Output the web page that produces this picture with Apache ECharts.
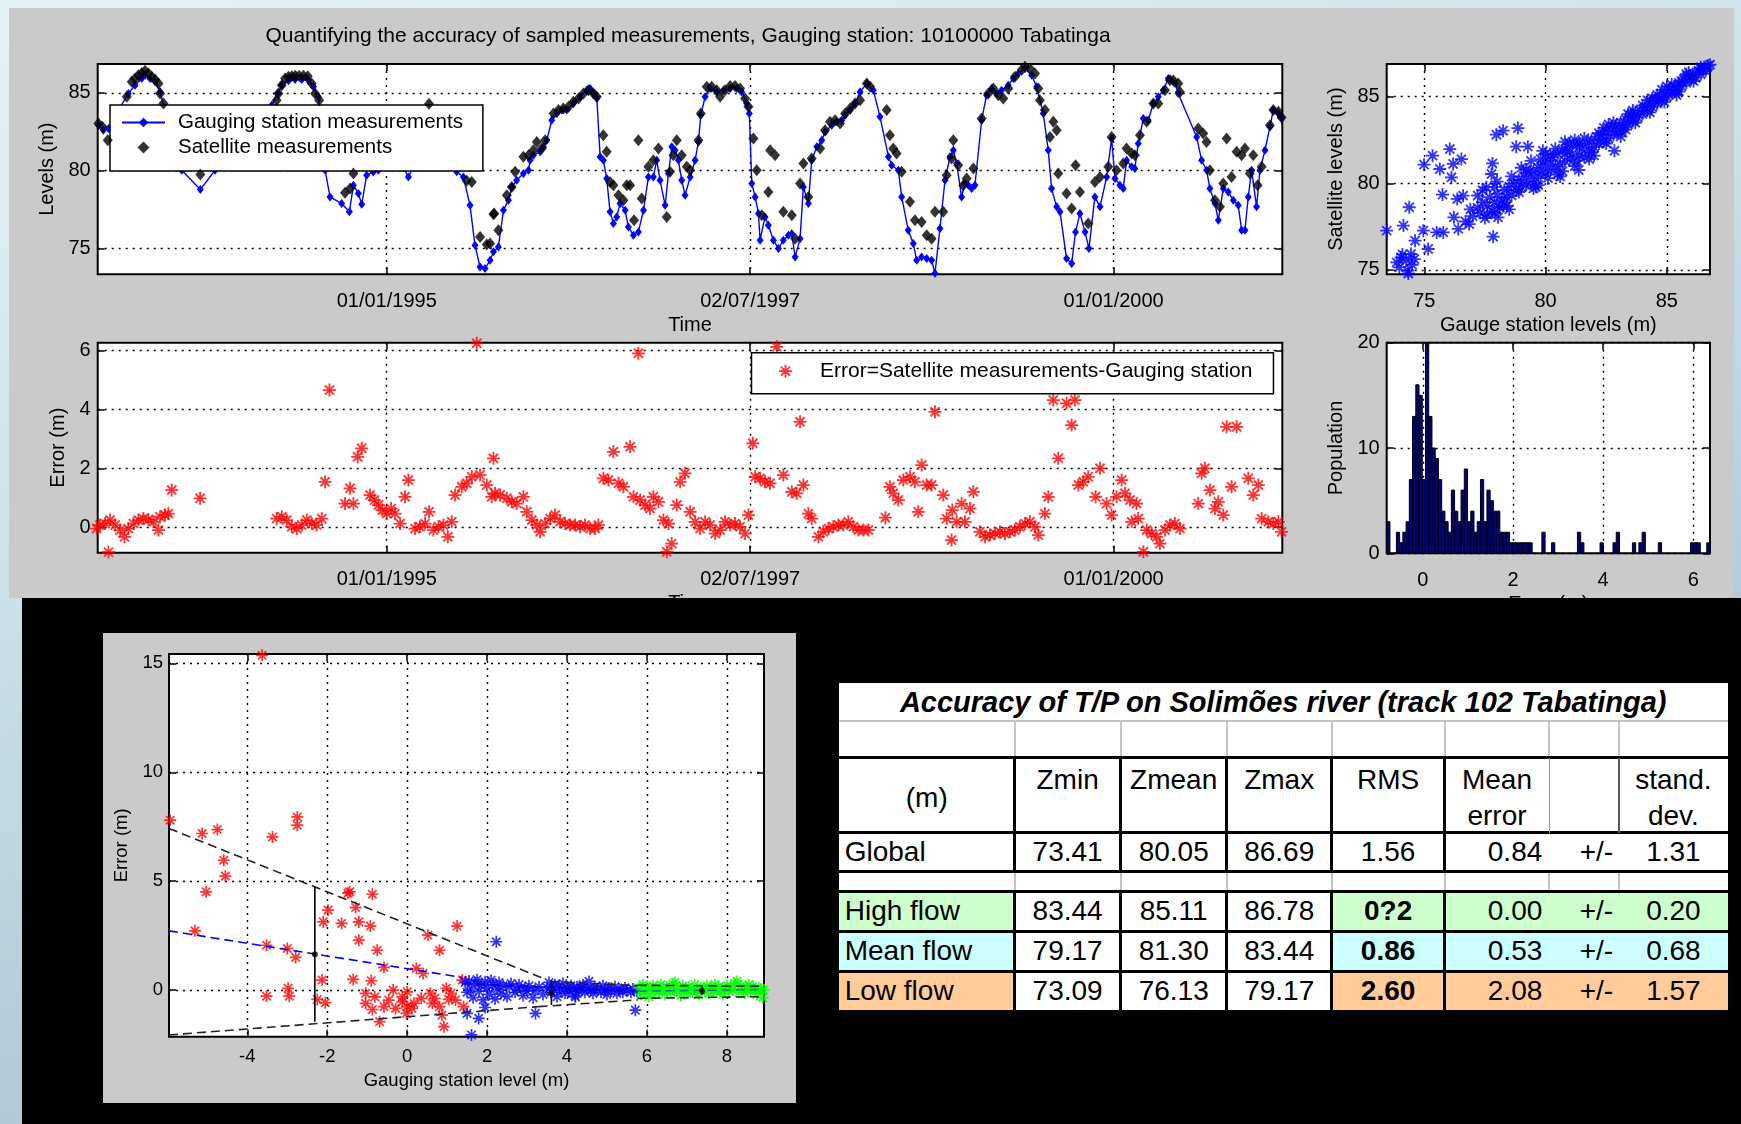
<!DOCTYPE html>
<html>
<head>
<meta charset="utf-8">
<title>Tabatinga gauging station - T/P accuracy</title>
<script src="https://cdn.jsdelivr.net/npm/echarts@6/dist/echarts.min.js"></script>
<style>
  html, body { margin: 0; padding: 0; width: 1741px; height: 1124px; overflow: hidden; }
  body { position: relative; background: linear-gradient(165deg, #e6f3f6 0%, #cde2ea 35%, #b3cad7 70%, #a6bfcf 100%);
         font-family: "Liberation Sans", Arial, Helvetica, sans-serif; }
  #figurePanel { position: absolute; left: 9px; top: 8px; width: 1725px; height: 590px; background: #cacaca; }
  #topChart { position: absolute; left: 0; top: 0; width: 1741px; height: 598px; }
  #blackPanel { position: absolute; left: 22px; top: 598px; width: 1719px; height: 526px; background: #000; }
  #flowChart { position: absolute; left: 103px; top: 633px; width: 693px; height: 470px; background: #cacaca; }
  #statsTable { position: absolute; left: 0; top: 0; width: 1741px; height: 1124px; pointer-events: none; }
  .cell { position: absolute; box-sizing: border-box; color: #000; font-size: 28px; line-height: 36px; white-space: pre; }
  .rule { position: absolute; }
</style>
</head>
<body>
<div id="figurePanel"></div>
<div id="topChart"></div>
<div id="blackPanel"></div>
<div id="flowChart"></div>
<div id="statsTable"></div>
<script>
// ---------------------------------------------------------------------------
// Data: Tabatinga gauging station (10100000) vs TOPEX/Poseidon track 102
// Times are decimal years.
// ---------------------------------------------------------------------------
const chartTitle = 'Quantifying the accuracy of sampled measurements, Gauging station: 10100000 Tabatinga';
const timeTickValues = [1995.0, 1997.5, 2000.0];
const timeTickLabels = ['01/01/1995', '02/07/1997', '01/01/2000'];
const levelTicks = [75, 80, 85];
const errorTicks = [0, 2, 4, 6];
const histXTicks = [0, 2, 4, 6];
const histYTicks = [0, 10, 20];
const flowXTicks = [-4, -2, 0, 2, 4, 6, 8];
const flowYTicks = [0, 5, 10, 15];

// gauging station water level (m)
const gaugeLevels = [
  [1993.017,82.92],[1993.051,82.60],[1993.086,82.71],[1993.155,83.89],[1993.223,84.96],[1993.269,85.49],
  [1993.315,85.92],[1993.338,86.13],[1993.372,85.92],[1993.407,85.71],[1993.441,85.06],[1993.590,80.03],
  [1993.718,78.79],[1993.819,80.03],[1994.209,84.21],[1994.250,84.96],[1994.278,85.49],[1994.324,85.77],
  [1994.370,85.86],[1994.415,85.86],[1994.461,85.81],[1994.496,85.39],[1994.530,84.74],[1994.576,80.03],
  [1994.610,78.32],[1994.690,77.89],[1994.743,77.36],[1994.771,79.07],[1994.805,78.53],[1994.828,77.85],
  [1994.862,79.71],[1994.908,79.92],[1994.943,80.03],[1994.970,80.40],[1995.000,80.80],[1995.057,81.00],
  [1995.092,80.60],[1995.149,79.60],[1995.195,80.50],[1995.264,82.00],[1995.291,83.80],[1995.355,82.60],
  [1995.420,81.00],[1995.481,79.93],[1995.527,79.60],[1995.573,77.78],[1995.607,75.21],[1995.642,73.82],
  [1995.676,73.72],[1995.711,74.25],[1995.734,74.79],[1995.768,75.11],[1995.803,77.46],[1995.837,78.11],
  [1995.860,78.96],[1995.894,79.39],[1995.940,79.82],[1995.975,80.03],[1995.986,80.67],[1996.009,81.00],
  [1996.055,81.21],[1996.078,81.53],[1996.101,81.96],[1996.135,83.24],[1996.170,83.67],[1996.204,83.89],
  [1996.238,83.89],[1996.284,84.31],[1996.330,84.74],[1996.376,85.17],[1996.399,85.28],[1996.422,84.96],
  [1996.445,84.64],[1996.468,80.89],[1996.490,80.67],[1996.513,79.50],[1996.536,77.36],[1996.559,76.61],
  [1996.582,77.03],[1996.605,77.89],[1996.640,77.46],[1996.662,76.39],[1996.697,75.86],[1996.731,76.07],
  [1996.766,77.46],[1996.800,79.60],[1996.834,79.60],[1996.857,80.67],[1996.880,79.39],[1996.915,77.78],
  [1996.938,79.82],[1996.961,81.53],[1996.983,81.32],[1997.006,80.67],[1997.029,79.39],[1997.052,78.43],
  [1997.087,79.60],[1997.121,80.67],[1997.144,81.85],[1997.160,83.56],[1997.190,84.74],[1997.224,85.28],
  [1997.270,85.06],[1997.316,85.17],[1997.362,85.28],[1997.408,85.28],[1997.442,85.06],[1997.476,84.31],
  [1997.494,83.67],[1997.511,79.18],[1997.534,78.32],[1997.557,77.25],[1997.568,75.54],[1997.602,77.03],
  [1997.625,76.50],[1997.660,75.54],[1997.694,75.00],[1997.728,75.54],[1997.763,75.86],[1997.786,75.96],
  [1997.809,74.46],[1997.843,75.64],[1997.866,78.96],[1997.900,77.89],[1997.923,80.67],[1997.958,81.53],
  [1997.992,81.96],[1998.015,82.49],[1998.061,82.92],[1998.095,83.14],[1998.130,83.24],[1998.153,83.56],
  [1998.187,83.89],[1998.221,84.31],[1998.256,85.06],[1998.302,85.60],[1998.347,85.17],[1998.393,83.46],
  [1998.451,80.89],[1998.473,80.35],[1998.519,80.03],[1998.542,78.32],[1998.587,76.18],[1998.622,75.32],
  [1998.645,74.25],[1998.679,74.46],[1998.714,74.36],[1998.748,74.25],[1998.771,73.41],[1998.805,76.29],
  [1998.840,79.39],[1998.874,80.89],[1998.897,81.32],[1998.920,80.46],[1998.954,78.32],[1998.977,79.18],
  [1999.000,79.07],[1999.023,78.85],[1999.046,79.07],[1999.092,83.24],[1999.126,84.85],[1999.161,85.28],
  [1999.195,84.96],[1999.229,85.17],[1999.275,85.49],[1999.310,85.92],[1999.344,86.24],[1999.390,86.56],
  [1999.436,86.13],[1999.470,85.39],[1999.516,83.67],[1999.550,81.32],[1999.573,78.85],[1999.608,77.68],
  [1999.631,77.36],[1999.676,74.36],[1999.711,74.04],[1999.738,76.07],[1999.768,77.25],[1999.803,76.07],
  [1999.830,75.00],[1999.871,78.32],[1999.906,77.68],[1999.952,79.60],[1999.986,82.07],[2000.009,79.50],
  [2000.043,79.07],[2000.066,78.85],[2000.089,80.67],[2000.124,80.25],[2000.146,80.14],[2000.169,81.75],
  [2000.204,83.35],[2000.238,83.24],[2000.273,84.31],[2000.307,84.74],[2000.341,85.17],[2000.376,85.92],
  [2000.422,85.60],[2000.444,84.96],[2000.571,82.17],[2000.605,80.67],[2000.639,80.03],[2000.662,78.85],
  [2000.697,77.89],[2000.720,76.82],[2000.754,78.85],[2000.788,78.64],[2000.823,78.11],[2000.857,77.78],
  [2000.880,76.18],[2000.903,76.18],[2000.926,78.32],[2000.949,80.03],[2000.983,77.68],[2001.006,80.03],
  [2001.041,81.32],[2001.075,82.82],[2001.098,83.89],[2001.133,83.67],[2001.155,83.42]
];

// satellite (T/P altimetry) water level (m)
const satelliteLevels = [
  [1993.017,83.03],[1993.044,82.82],[1993.081,81.96],[1993.212,84.74],[1993.246,85.71],[1993.269,85.92],
  [1993.292,86.13],[1993.315,86.28],[1993.338,86.41],[1993.361,86.24],[1993.384,86.03],[1993.407,85.86],
  [1993.430,85.60],[1993.441,84.96],[1993.464,84.31],[1993.718,79.75],[1994.243,84.53],[1994.255,84.96],
  [1994.278,85.49],[1994.301,85.92],[1994.324,86.03],[1994.347,86.07],[1994.370,86.09],[1994.397,86.09],
  [1994.427,86.09],[1994.457,86.07],[1994.484,85.60],[1994.507,84.96],[1994.535,84.53],[1994.713,78.58],
  [1994.748,78.85],[1994.771,79.82],[1995.291,84.30],[1995.550,79.35],[1995.585,79.28],[1995.642,75.75],
  [1995.688,75.26],[1995.734,77.21],[1995.711,75.32],[1995.739,77.25],[1995.768,76.18],[1995.826,78.43],
  [1995.860,78.96],[1995.883,79.93],[1995.940,80.89],[1995.975,81.00],[1996.009,81.32],[1996.032,81.85],
  [1996.066,81.42],[1996.089,81.96],[1996.147,83.67],[1996.181,83.89],[1996.215,83.99],[1996.250,84.10],
  [1996.284,84.42],[1996.319,84.64],[1996.353,84.96],[1996.387,85.17],[1996.422,84.96],[1996.445,84.74],
  [1996.490,82.28],[1996.513,81.21],[1996.536,79.28],[1996.559,79.07],[1996.594,78.43],[1996.628,78.11],
  [1996.651,79.07],[1996.674,79.07],[1996.701,76.82],[1996.731,81.96],[1996.754,78.21],[1996.800,80.25],
  [1996.834,80.67],[1996.869,81.42],[1996.926,77.03],[1996.949,79.93],[1996.972,81.00],[1996.995,81.96],
  [1997.029,81.00],[1997.064,80.25],[1997.087,80.03],[1997.144,81.96],[1997.160,83.67],[1997.201,85.39],
  [1997.235,85.39],[1997.270,85.17],[1997.293,84.74],[1997.327,85.17],[1997.362,85.43],[1997.396,85.43],
  [1997.430,85.28],[1997.465,84.64],[1997.488,84.10],[1997.522,82.07],[1997.545,80.03],[1997.580,77.14],
  [1997.625,78.64],[1997.637,81.32],[1997.671,81.00],[1997.728,77.36],[1997.786,77.14],[1997.809,75.64],
  [1997.843,79.18],[1997.866,80.46],[1997.900,78.32],[1997.923,80.78],[1997.981,81.42],[1998.015,82.60],
  [1998.049,83.14],[1998.084,83.24],[1998.118,83.03],[1998.153,83.67],[1998.187,83.99],[1998.221,84.31],
  [1998.256,84.53],[1998.302,85.60],[1998.325,85.39],[1998.439,83.89],[1998.461,82.28],[1998.484,81.42],
  [1998.507,81.10],[1998.542,79.93],[1998.599,78.00],[1998.633,76.82],[1998.679,76.71],[1998.714,75.86],
  [1998.748,75.64],[1998.771,77.36],[1998.828,77.36],[1998.851,79.71],[1998.885,80.78],[1998.897,81.96],
  [1998.931,80.35],[1998.966,79.07],[1998.989,79.50],[1999.035,80.14],[1999.092,83.35],[1999.138,84.96],
  [1999.172,85.28],[1999.207,84.85],[1999.241,84.64],[1999.275,85.28],[1999.321,86.03],[1999.367,86.46],
  [1999.390,86.67],[1999.424,86.56],[1999.459,86.24],[1999.482,85.28],[1999.493,84.53],[1999.527,83.89],
  [1999.562,82.17],[1999.585,83.14],[1999.608,82.60],[1999.619,79.82],[1999.676,78.53],[1999.711,77.57],
  [1999.738,80.35],[1999.768,78.64],[1999.825,76.61],[1999.871,79.28],[1999.906,79.60],[1999.963,80.25],
  [1999.986,82.17],[2000.020,80.03],[2000.066,80.46],[2000.089,81.42],[2000.124,81.10],[2000.146,81.00],
  [2000.181,82.28],[2000.227,83.14],[2000.273,84.31],[2000.307,84.31],[2000.353,85.17],[2000.387,85.81],
  [2000.410,85.81],[2000.444,85.60],[2000.456,85.06],[2000.582,82.71],[2000.616,82.39],[2000.639,81.85],
  [2000.662,80.03],[2000.697,78.11],[2000.731,77.68],[2000.754,79.18],[2000.777,82.07],[2000.811,79.60],
  [2000.846,81.21],[2000.880,81.00],[2000.903,81.42],[2000.937,79.82],[2000.960,81.00],[2000.990,79.07],
  [2001.018,80.25],[2001.075,82.92],[2001.098,83.89],[2001.133,83.78],[2001.155,83.42]
];

// error = satellite - gauging station (m)
const errorValues = [
  [1993.005,-0.05],[1993.028,0.07],[1993.063,0.12],[1993.086,-0.85],[1993.097,0.24],[1993.132,0.07],
  [1993.166,-0.10],[1993.196,-0.33],[1993.223,-0.05],[1993.258,0.12],[1993.292,0.24],[1993.326,0.29],
  [1993.361,0.26],[1993.395,0.18],[1993.430,-0.10],[1993.441,0.35],[1993.475,0.41],[1993.498,0.46],
  [1993.521,1.26],[1993.716,0.98],[1994.243,0.29],[1994.278,0.35],[1994.312,0.24],[1994.347,0.01],
  [1994.381,-0.05],[1994.415,0.07],[1994.450,0.24],[1994.484,0.12],[1994.518,0.07],[1994.553,0.29],
  [1994.576,1.54],[1994.606,4.66],[1994.713,0.80],[1994.748,1.32],[1994.771,0.80],[1994.800,2.39],
  [1994.828,2.68],[1994.885,1.09],[1994.915,0.92],[1994.943,0.75],[1994.970,0.58],[1995.000,0.46],
  [1995.030,0.63],[1995.057,0.46],[1995.092,0.12],[1995.126,1.03],[1995.149,1.60],[1995.195,-0.05],
  [1995.229,0.01],[1995.264,0.12],[1995.291,0.52],[1995.321,-0.10],[1995.355,0.01],[1995.390,0.07],
  [1995.420,-0.33],[1995.447,0.18],[1995.470,1.09],[1995.516,1.37],[1995.550,1.49],[1995.585,1.71],
  [1995.619,6.25],[1995.642,1.77],[1995.688,1.43],[1995.722,1.03],[1995.734,2.34],[1995.745,1.15],
  [1995.780,1.09],[1995.826,0.98],[1995.860,0.86],[1995.894,0.80],[1995.940,1.03],[1995.963,0.52],
  [1995.998,0.24],[1996.032,0.07],[1996.055,-0.16],[1996.089,0.12],[1996.124,0.29],[1996.158,0.41],
  [1996.192,0.18],[1996.227,0.12],[1996.261,0.07],[1996.296,0.07],[1996.330,0.01],[1996.364,0.07],
  [1996.399,-0.05],[1996.433,-0.05],[1996.456,0.07],[1996.490,1.66],[1996.525,1.60],[1996.559,2.56],
  [1996.594,1.49],[1996.628,1.37],[1996.674,2.73],[1996.697,1.03],[1996.731,5.91],[1996.743,0.92],
  [1996.777,0.75],[1996.811,0.63],[1996.834,1.03],[1996.869,0.86],[1996.903,0.24],[1996.926,-0.84],
  [1996.938,0.12],[1996.960,-0.56],[1996.995,0.75],[1997.018,1.54],[1997.052,1.83],[1997.087,0.52],
  [1997.121,0.18],[1997.155,-0.05],[1997.190,0.18],[1997.224,0.07],[1997.259,-0.22],[1997.293,-0.10],
  [1997.327,0.18],[1997.362,0.07],[1997.396,0.12],[1997.430,0.01],[1997.465,-0.22],[1997.488,0.41],
  [1997.518,2.85],[1997.534,1.71],[1997.568,1.66],[1997.602,1.54],[1997.637,1.49],[1997.683,6.13],
  [1997.728,1.77],[1997.786,1.20],[1997.820,1.15],[1997.843,3.58],[1997.866,1.43],[1997.900,0.46],
  [1997.923,0.29],[1997.969,-0.33],[1998.003,-0.16],[1998.038,-0.05],[1998.072,0.01],[1998.107,0.07],
  [1998.141,0.07],[1998.175,0.18],[1998.210,0.01],[1998.244,-0.10],[1998.279,-0.10],[1998.313,-0.10],
  [1998.430,0.32],[1998.461,1.37],[1998.484,1.15],[1998.519,0.92],[1998.553,1.60],[1998.599,1.71],
  [1998.633,1.54],[1998.656,0.52],[1998.679,2.11],[1998.714,1.43],[1998.748,1.43],[1998.771,3.92],
  [1998.828,1.09],[1998.851,0.29],[1998.885,-0.44],[1998.890,0.58],[1998.920,0.18],[1998.954,0.80],
  [1998.977,0.18],[1999.012,0.63],[1999.035,1.20],[1999.080,-0.16],[1999.115,-0.33],[1999.149,-0.27],
  [1999.184,-0.22],[1999.218,-0.16],[1999.252,-0.22],[1999.287,-0.16],[1999.321,-0.10],[1999.355,0.01],
  [1999.390,0.12],[1999.424,0.18],[1999.459,0.01],[1999.482,-0.27],[1999.527,0.46],[1999.550,1.03],
  [1999.585,4.32],[1999.619,2.34],[1999.676,4.21],[1999.711,3.47],[1999.734,4.32],[1999.757,1.43],
  [1999.791,1.54],[1999.825,1.71],[1999.876,1.03],[1999.906,2.00],[1999.951,0.80],[1999.986,0.41],
  [2000.020,1.03],[2000.055,1.60],[2000.078,1.15],[2000.112,0.92],[2000.124,0.18],[2000.158,0.80],
  [2000.169,0.29],[2000.204,-0.84],[2000.227,-0.10],[2000.261,-0.22],[2000.295,-0.33],[2000.318,-0.56],
  [2000.353,-0.10],[2000.387,0.07],[2000.421,0.12],[2000.456,-0.05],[2000.582,0.80],[2000.605,1.83],
  [2000.628,2.00],[2000.662,1.26],[2000.697,0.63],[2000.720,0.86],[2000.754,0.41],[2000.777,3.41],
  [2000.811,1.37],[2000.846,3.41],[2000.926,1.66],[2000.960,1.09],[2000.995,1.43],[2001.018,0.29],
  [2001.064,0.18],[2001.098,0.12],[2001.133,0.18],[2001.155,-0.16]
];

// [gauge level, satellite level] pairs (m)
const levelPairs = [
  [73.45,77.27],[74.14,77.56],[74.38,78.62],[74.99,81.08],[75.34,81.60],[75.64,80.83],[75.75,79.35],
  [76.05,81.98],[76.19,81.12],[76.12,80.35],[76.36,79.10],[76.60,79.29],[76.53,81.40],[76.22,78.04],
  [76.40,77.37],[76.85,77.65],[74.96,77.27],[75.16,76.21],[74.62,76.69],[75.51,77.17],[75.78,77.17],
  [77.84,76.92],[77.81,81.15],[77.97,82.81],[78.25,83.04],[78.86,83.19],[78.79,82.12],[79.27,82.12],
  [78.11,78.62],[78.04,78.04],[77.56,79.77],[77.77,80.54],[79.89,81.88],[82.84,81.88],[81.37,80.77],
  [73.86,75.44],[74.04,75.73],[74.25,75.54],[74.45,75.92],[74.59,75.63],[73.97,75.15],[74.32,74.96],
  [74.34,74.80],[74.10,75.90],[74.50,75.30],
  [76.70,77.80],[76.90,78.50],[77.00,78.10],[77.20,78.60],[77.30,78.30],[77.40,78.90],[77.50,78.00],
  [77.60,78.70],[77.70,79.20],[77.80,78.40],[77.90,78.90],[78.00,79.40],[78.10,78.60],[78.20,79.00],
  [78.30,79.60],[78.40,79.20],[78.50,79.80],[78.60,79.30],[78.70,80.00],[78.80,79.60],[78.90,80.20],
  [79.00,79.80],[79.10,80.40],[79.20,79.90],[79.30,80.60],[79.40,80.10],[79.50,80.70],[79.60,80.30],
  [79.70,80.90],[79.80,80.50],[79.90,81.10],[80.00,80.60],[80.10,81.30],[80.20,80.80],[80.30,81.50],
  [80.40,81.00],[80.50,81.70],[80.60,81.10],[80.70,81.90],[80.80,81.30],[80.90,82.10],[81.00,81.40],
  [81.10,81.70],[81.20,81.00],[81.30,82.20],[81.40,81.60],[81.50,82.00],[81.60,81.50],[81.70,82.30],
  [81.80,81.90],[81.90,82.50],[82.00,82.10],[82.10,82.70],[82.20,82.30],[82.30,82.80],[82.40,82.40],
  [82.50,83.00],[82.60,82.60],[82.70,83.10],[82.80,82.80],[82.90,83.30],[83.00,83.00],[83.10,83.50],
  [83.20,83.20],[83.30,83.70],[83.40,83.40],[83.50,83.90],[83.60,83.60],[83.70,84.10],[83.80,83.80],
  [83.90,84.20],[84.00,84.00],[84.10,84.40],[84.20,84.20],[84.30,84.60],[84.40,84.40],[84.50,84.80],
  [84.60,84.60],[84.70,85.00],[84.80,84.80],[84.90,85.20],[85.00,85.00],[85.10,85.40],[85.20,85.20],
  [85.30,85.60],[85.40,85.40],[85.50,85.80],[85.60,85.60],[85.70,86.00],[85.80,85.80],[85.90,86.20],
  [86.00,86.00],[86.10,86.30],[86.20,86.10],[86.30,86.50],[86.40,86.30],[86.50,86.60],[86.60,86.50],
  [86.70,86.80],[86.78,86.85],
  [77.40,79.60],[77.90,79.80],[78.40,78.70],[79.00,80.90],[79.60,79.80],[80.20,81.60],[80.60,80.40],
  [80.90,81.80],[81.40,82.30],[81.80,81.40],[82.40,83.20],[83.10,82.70],[83.60,84.20],[84.20,84.80],
  [84.80,85.40],[85.40,85.10],[85.90,86.40],[86.40,86.70],[79.40,81.30],[80.80,82.40],[77.20,79.30],
  [77.60,78.20],[77.90,78.30],[78.30,78.90],[78.60,80.40],[78.90,79.50],[79.20,80.80],[79.50,79.70],
  [79.80,81.40],[80.10,80.30],[80.40,82.00],[80.70,80.70],[81.00,82.30],[81.30,81.30],[81.60,82.60],
  [81.90,81.80],[82.20,82.90],[82.50,82.30],[82.80,83.50],[83.10,83.00],[83.40,84.00],[83.70,83.50],
  [84.00,84.50],[84.30,84.10],[84.60,85.10],[84.90,84.70],[85.20,85.70],[85.50,85.30],[85.80,86.30],
  [86.10,85.90],[86.40,86.60],[78.00,80.10],[78.50,78.50],[79.70,79.90],[80.00,81.70],[80.50,80.50],
  [81.20,82.50],[82.00,81.60],[82.60,83.40],[83.30,83.10],[84.40,84.90],[85.00,85.60],[85.60,85.90]
];

// histogram of the errors (100 bins)
const histStart = -0.8;
const histBinWidth = 0.0717;
const histCounts = [
  3,0,0,
  2,1,2,3,7,13,16,15,7,20,13,10,9,7,4,3,2,6,4,3,6,8,3,4,2,3,7,3,6,5,4,4,2,2,2,1,1,1,1,1,1,1,
  0,0,0,2,0,0,1,0,0,0,0,0,0,0,2,1,0,0,0,0,0,1,0,0,0,1,2,0,0,0,0,1,0,1,2,0,0,0,0,1,
  0,0,0,0,0,0,0,0,0,1,1,1,0,0,1
];

// error vs gauging station level, split by flow regime [level (m), error (m)]
const lowFlowErrors = [
  [-3.63,15.37],[-5.93,7.80],[-5.13,7.19],[-4.75,7.37],[-3.37,7.03],[-2.75,7.95],[-2.75,7.57],[-4.59,5.96],
  [-4.55,5.23],[-5.03,4.51],[-5.31,2.72],[-3.52,2.06],[-3.00,1.91],[-2.79,1.50],[-3.52,-0.28],[-2.98,0.08],
  [-2.95,-0.28],[-2.13,0.46],[-2.25,-0.43],[-2.05,-0.58],[-1.98,3.67],[-2.10,3.13],[-1.64,3.06],[-1.44,4.51],
  [-1.29,3.79],[-1.21,3.13],[-1.21,2.29],[-0.92,2.94],[-0.87,4.40],[-0.75,1.83],[-1.35,0.49],[-0.90,0.43],
  [-0.58,1.04],[-1.04,-0.61],[-0.81,-0.31],[-0.69,-1.45],[-0.58,-0.76],[-0.35,0.00],[-0.29,-0.84],[-0.12,-0.54],
  [0.00,-0.76],[0.00,-0.08],[-0.12,-0.31],[0.12,-0.84],[0.23,0.99],[0.40,0.76],[0.35,-0.38],[0.52,2.52],
  [0.58,-0.15],[0.69,-0.38],[0.81,1.83],[0.87,-1.15],[0.92,-1.68],[0.98,0.08],[1.04,-0.43],[1.25,2.94],
  [1.38,0.46],[1.41,-0.76],[0.17,-0.61],[-0.46,-0.46],[-1.04,-0.15],[0.63,-0.61],[1.10,-0.15],[1.21,-0.46],
  [-0.87,-0.89],[-0.02,-1.07],[0.81,-0.76],[-1.48,4.45]
];
const meanFlowErrors = [
  [1.45,0.35],[1.50,-0.10],[1.55,0.42],[1.60,0.05],[1.65,-0.35],[1.70,0.30],[1.75,0.48],[1.80,-0.05],
  [1.85,0.20],[1.90,-0.45],[1.95,0.38],[2.00,0.10],[2.05,-0.20],[2.10,0.45],[2.15,0.25],[2.20,-0.40],
  [2.25,0.05],[2.30,0.35],[2.35,-0.15],[2.40,0.20],[2.50,-0.30],[2.55,0.15],[2.60,0.30],[2.70,-0.10],
  [2.75,0.05],[2.80,0.25],[2.90,-0.25],[2.95,0.10],[3.00,-0.05],[3.05,0.20],[3.15,-0.35],[3.20,0.00],
  [3.30,0.15],[3.40,-0.20],[3.50,0.10],[3.55,0.35],[3.60,-0.10],[3.65,0.05],[3.70,0.25],[3.75,-0.30],
  [3.80,0.15],[3.85,0.00],[3.90,0.30],[3.95,-0.15],[4.00,0.10],[4.05,-0.05],[4.10,0.20],[4.15,0.05],
  [4.20,-0.25],[4.25,0.15],[4.30,-0.05],[4.35,0.10],[4.40,0.25],[4.45,-0.10],[4.50,0.05],[4.55,0.40],
  [4.60,0.00],[4.65,-0.15],[4.70,0.15],[4.75,0.05],[4.85,-0.10],[4.90,0.20],[4.95,0.00],[5.00,-0.20],
  [5.05,0.10],[5.10,-0.05],[5.20,0.15],[5.25,-0.15],[5.30,0.05],[5.40,-0.10],[5.45,0.10],[5.50,0.00],
  [5.60,-0.10],[5.65,0.05],[5.75,-0.05],
  [2.23,2.22],[1.61,-2.06],[1.79,-1.30],[1.50,-1.07],[3.21,-1.07],[5.71,-0.92],[4.21,-0.31],[1.95,-0.80]
];
const highFlowErrors = [
  [5.80,0.10],[5.85,-0.20],[5.90,0.25],[5.95,-0.05],[6.00,0.15],[6.05,-0.30],[6.10,0.05],[6.15,0.20],
  [6.20,-0.15],[6.25,0.10],[6.30,-0.05],[6.35,0.25],[6.40,0.00],[6.45,-0.20],[6.50,0.15],[6.55,0.05],
  [6.60,-0.10],[6.65,0.30],[6.70,0.35],[6.75,-0.05],[6.80,0.10],[6.85,-0.25],[6.90,0.20],[6.95,0.00],
  [7.00,-0.15],[7.05,0.15],[7.10,0.05],[7.15,-0.10],[7.20,0.25],[7.25,0.00],[7.30,-0.20],[7.35,0.10],
  [7.40,0.05],[7.45,-0.05],[7.50,0.20],[7.55,-0.15],[7.60,0.10],[7.65,0.00],[7.70,0.25],[7.75,-0.10],
  [7.80,0.15],[7.85,0.05],[7.90,-0.20],[7.95,0.10],[8.00,0.20],[8.05,-0.05],[8.10,0.15],[8.15,0.00],
  [8.20,0.30],[8.25,0.40],[8.30,-0.10],[8.35,0.20],[8.40,0.05],[8.45,-0.15],[8.50,0.10],[8.55,0.25],
  [8.60,-0.05],[8.65,0.15],[8.70,0.00],[8.75,-0.20],[8.80,0.10],[8.85,0.05],[8.90,-0.35],[8.92,0.00]
];
// regime fits: mean and mean +/- one standard deviation
const lowFitUpper = [[-5.96,7.42],[3.40,0.54]];
const lowFitLower = [[-5.96,-2.06],[3.29,-0.76]];
const lowFitMean = [[-5.96,2.72],[1.38,0.58]];
const meanFitUpper = [[3.58,0.40],[5.77,0.20]];
const meanFitLower = [[3.29,-0.76],[5.77,-0.45]];
const meanFitMean = [[1.38,0.30],[5.77,-0.05]];
const highFitUpper = [[5.77,0.22],[8.93,0.18]];
const highFitLower = [[5.77,-0.38],[8.93,-0.30]];
const highFitMean = [[5.77,-0.05],[8.93,0.03]];
// error bars: [level, lower, centre, upper]
const regimeSpread = [[-2.31,-1.45,1.64,4.74],[3.61,-0.69,-0.15,0.38],[7.38,-0.23,-0.04,0.15]];

// statistics table
const tableTitle = 'Accuracy of T/P on Solimões river (track 102 Tabatinga)';
const tableHeaders = ['(m)', 'Zmin', 'Zmean', 'Zmax', 'RMS', 'Mean\nerror', '', 'stand.\ndev.'];
const tableRowNames = ['Global', 'High flow', 'Mean flow', 'Low flow'];
const tableZmin = ['73.41', '83.44', '79.17', '73.09'];
const tableZmean = ['80.05', '85.11', '81.30', '76.13'];
const tableZmax = ['86.69', '86.78', '83.44', '79.17'];
const tableRms = ['1.56', '0?2', '0.86', '2.60'];
const tableMeanError = ['0.84', '0.00', '0.53', '2.08'];
const tableStdDev = ['1.31', '0.20', '0.68', '1.57'];

// ---------------------------------------------------------------------------
// Styling helpers
// ---------------------------------------------------------------------------
const FONT = '"Liberation Sans", Arial, Helvetica, sans-serif';
const ASTERISK = 'path://M0 43L100 43L100 57L0 57Z M43 0L57 0L57 100L43 100Z M10 20L20 10L90 80L80 90Z M80 10L90 20L20 90L10 80Z';
const DIAMOND = 'path://M50 0L100 50L50 100L0 50Z';
const DOTS = [2, 5];

function makeAxis(gridIndex, position, spec, main) {
  return {
    type: 'value', gridIndex: gridIndex, position: position,
    min: spec.min, max: spec.max,
    name: main ? (spec.name || '') : '',
    nameLocation: 'middle', nameGap: spec.nameGap || 0,
    nameTextStyle: { fontFamily: FONT, fontSize: spec.fontSize, color: '#000' },
    axisLine: { show: false, onZero: false },
    axisTick: { show: true, inside: true, length: 7, customValues: spec.ticks,
                lineStyle: { color: '#000', width: 1.5 } },
    axisLabel: { show: main, customValues: spec.ticks, margin: spec.margin || 8,
                 fontFamily: FONT, fontSize: spec.fontSize, color: '#000',
                 formatter: spec.formatter || (v => String(v)) },
    splitLine: { show: main, lineStyle: { color: '#000', width: 1.4, type: DOTS } },
    silent: true
  };
}
function makeGrid(rect) {
  return Object.assign({ show: true, backgroundColor: '#fff', borderColor: '#000', borderWidth: 2,
                         containLabel: false, outerBoundsMode: 'none' }, rect);
}
function addPanel(opt, rect, xSpec, ySpec) {
  const gi = opt.grid.length;
  opt.grid.push(makeGrid(rect));
  opt.xAxis.push(makeAxis(gi, 'bottom', xSpec, true), makeAxis(gi, 'top', xSpec, false));
  opt.yAxis.push(makeAxis(gi, 'left', ySpec, true), makeAxis(gi, 'right', ySpec, false));
  return { x: gi * 2, y: gi * 2 };
}

// ---------------------------------------------------------------------------
// Upper figure: time series, errors, level scatter, error histogram
// ---------------------------------------------------------------------------
const topOption = {
  animation: false,
  title: { text: chartTitle, left: 688, top: 26, padding: 0, textAlign: 'center',
           textStyle: { fontFamily: FONT, fontSize: 21, fontWeight: 'normal', color: '#000' } },
  grid: [], xAxis: [], yAxis: [], series: [],
  legend: [
    { data: ['Gauging station measurements', { name: 'Satellite measurements', icon: DIAMOND }], orient: 'vertical',
      left: 110, top: 105, itemWidth: 43, itemHeight: 12, itemGap: 4, padding: [7, 20, 13, 11],
      symbolKeepAspect: true,
      backgroundColor: '#fff', borderColor: '#000', borderWidth: 1.5, borderRadius: 0,
      selectedMode: false, textStyle: { fontFamily: FONT, fontSize: 20.5, color: '#000', padding: [0, 0, 0, 8] } },
    { data: ['Error=Satellite measurements-Gauging station'], orient: 'vertical',
      left: 751.5, top: 352.7, itemWidth: 43, itemHeight: 13, padding: [8, 21, 12, 27.5],
      symbolKeepAspect: true,
      backgroundColor: '#fff', borderColor: '#000', borderWidth: 1.5, borderRadius: 0,
      selectedMode: false, textStyle: { fontFamily: FONT, fontSize: 21, color: '#000', padding: [0, 0, 0, 8] } }
  ]
};
const timeFormatter = v => timeTickLabels[timeTickValues.indexOf(v)] || '';
const timeSpec = { min: 1993.012, max: 2001.16, ticks: timeTickValues, formatter: timeFormatter,
                   fontSize: 20, margin: 17, name: 'Time', nameGap: 41 };

const pA = addPanel(topOption, { left: 97.7, top: 64, width: 1184.6, height: 210.3 }, timeSpec,
  { min: 73.35, max: 86.85, ticks: levelTicks, fontSize: 20, margin: 7, name: 'Levels (m)', nameGap: 40 });
const pB = addPanel(topOption, { left: 97.7, top: 342.7, width: 1184.6, height: 210 }, timeSpec,
  { min: -0.87, max: 6.27, ticks: errorTicks, fontSize: 20, margin: 7, name: 'Error (m)', nameGap: 29 });
const pC = addPanel(topOption, { left: 1386.7, top: 64, width: 323.3, height: 210.3 },
  { min: 73.45, max: 86.78, ticks: levelTicks, fontSize: 20, margin: 17, name: 'Gauge station levels (m)', nameGap: 41 },
  { min: 74.75, max: 86.89, ticks: levelTicks, fontSize: 20, margin: 7, name: 'Satellite levels (m)', nameGap: 40 });
const pD = addPanel(topOption, { left: 1386.7, top: 342.7, width: 323.3, height: 210.6 },
  { min: -0.8, max: 6.37, ticks: histXTicks, fontSize: 20, margin: 17, name: 'Error (m)', nameGap: 41 },
  { min: 0, max: 20, ticks: histYTicks, fontSize: 20, margin: 7, name: 'Population', nameGap: 40 });

topOption.series.push(
  { name: 'Gauging station measurements', type: 'line', xAxisIndex: pA.x, yAxisIndex: pA.y,
    data: gaugeLevels, symbol: 'diamond', symbolSize: [7, 9], showSymbol: true, showAllSymbol: true,
    itemStyle: { color: '#0000ff' }, lineStyle: { color: '#0000ff', width: 1.4 }, z: 3, silent: true },
  { name: 'Satellite measurements', type: 'scatter', xAxisIndex: pA.x, yAxisIndex: pA.y,
    data: satelliteLevels, symbol: 'diamond', symbolSize: [10, 12], clip: false,
    itemStyle: { color: '#000' }, z: 4, silent: true },
  { name: 'Error=Satellite measurements-Gauging station', type: 'scatter', xAxisIndex: pB.x, yAxisIndex: pB.y,
    data: errorValues, symbol: ASTERISK, symbolSize: 13, clip: false,
    itemStyle: { color: '#ff0000' }, z: 3, silent: true },
  { name: 'Level comparison', type: 'scatter', xAxisIndex: pC.x, yAxisIndex: pC.y,
    data: levelPairs, symbol: ASTERISK, symbolSize: 13, clip: false,
    itemStyle: { color: '#0000ff' }, z: 3, silent: true },
  { name: 'Error histogram', type: 'custom', xAxisIndex: pD.x, yAxisIndex: pD.y,
    data: histCounts.map((c, k) => [histStart + k * histBinWidth, histStart + (k + 1) * histBinWidth, c]).filter(d => d[2] > 0),
    encode: { x: [0, 1], y: 2 }, silent: true, z: 3,
    renderItem: function (params, api) {
      const p0 = api.coord([api.value(0), 0]);
      const p1 = api.coord([api.value(1), api.value(2)]);
      return { type: 'rect', shape: { x: p0[0], y: p1[1], width: p1[0] - p0[0], height: p0[1] - p1[1] },
               style: { fill: '#00007f', stroke: '#000', lineWidth: 1 } };
    } }
);

const topChart = echarts.init(document.getElementById('topChart'), null, { renderer: 'canvas' });
topChart.setOption(topOption);

// ---------------------------------------------------------------------------
// Lower figure: error against gauging station level by flow regime
// ---------------------------------------------------------------------------
const flowOption = { animation: false, grid: [], xAxis: [], yAxis: [], series: [] };
const pE = addPanel(flowOption, { left: 66, top: 21, width: 595, height: 382.7 },
  { min: -5.96, max: 8.93, ticks: flowXTicks, fontSize: 18.5, margin: 11, name: 'Gauging station level (m)', nameGap: 32 },
  { min: -2.14, max: 15.43, ticks: flowYTicks, fontSize: 18.5, margin: 6, name: 'Error (m)', nameGap: 37 });

function regimePoints(data, colour) {
  return { type: 'scatter', xAxisIndex: pE.x, yAxisIndex: pE.y, data: data, symbol: ASTERISK,
           symbolSize: 12, clip: false, itemStyle: { color: colour }, z: 3, silent: true };
}
function fitLine(data, colour, dashed) {
  return { type: 'line', xAxisIndex: pE.x, yAxisIndex: pE.y, data: data, symbol: 'none',
           lineStyle: { color: colour, width: 1.6, type: dashed ? [9, 5] : 'solid' }, z: 5, silent: true };
}
flowOption.series.push(
  regimePoints(lowFlowErrors, '#ff0000'),
  regimePoints(meanFlowErrors, '#0000ff'),
  regimePoints(highFlowErrors, '#00ff00'),
  fitLine(lowFitUpper, '#222', true), fitLine(lowFitLower, '#222', true), fitLine(lowFitMean, '#0000ff', true),
  fitLine(meanFitUpper, '#222', true), fitLine(meanFitLower, '#222', true), fitLine(meanFitMean, '#0000cc', true),
  fitLine(highFitUpper, '#222', true), fitLine(highFitLower, '#222', true), fitLine(highFitMean, '#008080', true)
);
regimeSpread.forEach(function (r) {
  flowOption.series.push(fitLine([[r[0], r[1]], [r[0], r[3]]], '#000', false));
  flowOption.series.push({ type: 'scatter', xAxisIndex: pE.x, yAxisIndex: pE.y, data: [[r[0], r[2]]],
    symbol: 'circle', symbolSize: 6, itemStyle: { color: '#000' }, z: 6, silent: true });
});
const flowChart = echarts.init(document.getElementById('flowChart'), null, { renderer: 'canvas' });
flowChart.setOption(flowOption);

// ---------------------------------------------------------------------------
// Statistics table
// ---------------------------------------------------------------------------
(function buildTable() {
  const host = document.getElementById('statsTable');
  const colEdges = [838.7, 1014.8, 1120.5, 1226.9, 1331.5, 1444.7, 1549.3, 1619.1, 1727.7];
  const rowEdges = { title: [682.7, 720.7], blank1: [720.7, 757.8], head: [757.8, 832.8],
                     global: [832.8, 871.2], blank2: [871.2, 891.2] };
  const flowRowEdges = [[891.2, 931.2], [931.2, 971.5], [971.5, 1010]];
  const flowFills = ['#ccffcc', '#ccffff', '#ffcc99'];

  function box(x0, y0, x1, y1, css, text) {
    const d = document.createElement('div');
    d.className = 'cell';
    d.style.left = x0 + 'px'; d.style.top = y0 + 'px';
    d.style.width = (x1 - x0) + 'px'; d.style.height = (y1 - y0) + 'px';
    Object.assign(d.style, css || {});
    if (text != null) d.textContent = text;
    host.appendChild(d);
    return d;
  }
  function rule(x0, y0, x1, y1, colour) {
    const d = document.createElement('div');
    d.className = 'rule';
    d.style.left = x0 + 'px'; d.style.top = y0 + 'px';
    d.style.width = (x1 - x0) + 'px'; d.style.height = (y1 - y0) + 'px';
    d.style.background = colour;
    host.appendChild(d);
  }

  const L = colEdges[0], R = colEdges[colEdges.length - 1];
  box(L, rowEdges.title[0], R, 1010, { background: '#fff' });
  box(L, rowEdges.title[0], R, rowEdges.title[1],
      { textAlign: 'center', fontWeight: 'bold', fontStyle: 'italic', fontSize: '29px', lineHeight: '38px' }, tableTitle);
  const hy0 = rowEdges.head[0], hy1 = rowEdges.head[1];
  tableHeaders.forEach(function (h, i) {
    const css = { textAlign: 'center', paddingTop: '4px' };
    if (i === 0) { css.paddingTop = '22px'; }
    box(colEdges[i], hy0, colEdges[i + 1], hy1, css, h);
  });
  const rowsY = [rowEdges.global].concat(flowRowEdges);
  tableRowNames.forEach(function (name, r) {
    const y0 = rowsY[r][0], y1 = rowsY[r][1];
    const fill = r === 0 ? '#fff' : flowFills[r - 1];
    const lh = (y1 - y0) + 'px';
    const bold = r === 0 ? 'normal' : 'bold';
    box(colEdges[0], y0, colEdges[1], y1, { background: fill, paddingLeft: '6px', lineHeight: lh }, name);
    box(colEdges[1], y0, colEdges[2], y1, { textAlign: 'center', lineHeight: lh }, tableZmin[r]);
    box(colEdges[2], y0, colEdges[3], y1, { textAlign: 'center', lineHeight: lh }, tableZmean[r]);
    box(colEdges[3], y0, colEdges[4], y1, { textAlign: 'center', lineHeight: lh }, tableZmax[r]);
    box(colEdges[4], y0, colEdges[5], y1, { background: fill, textAlign: 'center', lineHeight: lh, fontWeight: bold }, tableRms[r]);
    box(colEdges[5], y0, colEdges[6], y1, { background: fill, textAlign: 'right', paddingRight: '7px', lineHeight: lh }, tableMeanError[r]);
    box(colEdges[6], y0, colEdges[7], y1, { background: fill, textAlign: 'right', paddingRight: '6px', lineHeight: lh }, '+/-');
    box(colEdges[7], y0, colEdges[8], y1, { background: fill, textAlign: 'center', lineHeight: lh }, tableStdDev[r]);
  });

  const light = '#c4c4c4';
  rule(L, rowEdges.title[1] - 1, R, rowEdges.title[1] + 1, light);
  [rowEdges.blank1, rowEdges.blank2].forEach(function (b) {
    for (let i = 1; i < colEdges.length - 1; i++) rule(colEdges[i] - 1, b[0], colEdges[i] + 1, b[1], light);
  });
  [757.8, 832.8, 871.2, 891.2, 931.2, 971.5].forEach(function (y) { rule(L, y - 1.5, R, y + 1.5, '#000'); });
  for (let i = 1; i <= 5; i++) {
    rule(colEdges[i] - 1.5, 757.8, colEdges[i] + 1.5, 871.2, '#000');
    rule(colEdges[i] - 1.5, 891.2, colEdges[i] + 1.5, 1010, '#000');
  }
  rule(colEdges[6] - 0.75, 757.8, colEdges[6] + 0.75, 832.8, '#9a9a9a');
  rule(colEdges[7] - 0.75, 757.8, colEdges[7] + 0.75, 832.8, '#5a5a5a');
})();
</script>
</body>
</html>
